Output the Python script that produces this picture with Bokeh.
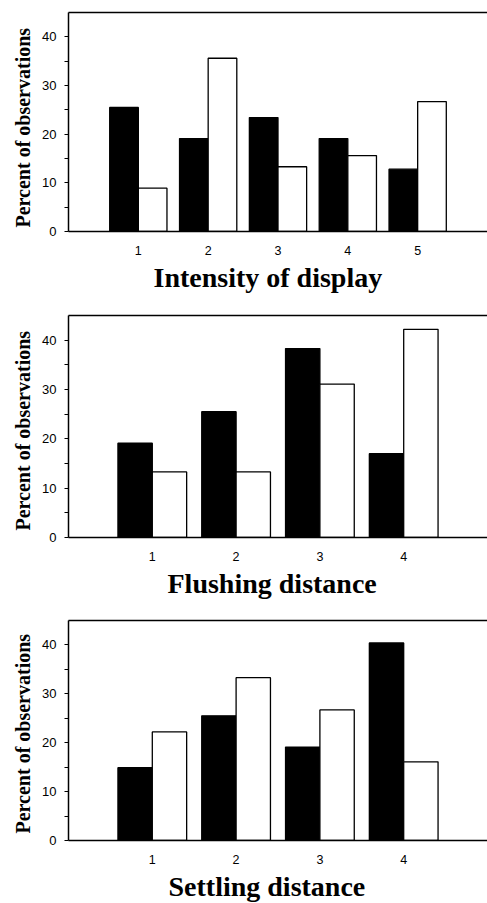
from bokeh.plotting import figure
from bokeh.layouts import column
from bokeh.models import ColumnDataSource, FixedTicker, LinearAxis, Title, Range1d
from bokeh.transform import dodge
from bokeh.embed import file_html
from bokeh.resources import INLINE

# ---- data (percent of observations) ----
intensity_cats = [1, 2, 3, 4, 5]
intensity_black = [25.5, 19.1, 23.4, 19.1, 12.8]
intensity_white = [8.9, 35.6, 13.3, 15.6, 26.7]

flushing_cats = [1, 2, 3, 4]
flushing_black = [19.1, 25.5, 38.3, 17.0]
flushing_white = [13.3, 13.3, 31.1, 42.2]

settling_cats = [1, 2, 3, 4]
settling_black = [14.9, 25.5, 19.1, 40.4]
settling_white = [22.2, 33.3, 26.7, 16.1]

y_major = [0, 10, 20, 30, 40]
y_minor = [5, 15, 25, 35]

TICK_FONT = "Liberation Sans"
SERIF = "Liberation Serif"
BAR_W = 0.41


def panel(cats, black, white, title, height, top, bottom, left, title_offset, ylab_offset):
    src = ColumnDataSource(dict(x=cats, black=black, white=white))
    p = figure(width=487, height=height,
               x_range=Range1d(0, len(cats) + 1), y_range=Range1d(0, 45),
               output_backend="svg", toolbar_location=None,
               min_border_left=left, min_border_right=0,
               min_border_top=top, min_border_bottom=bottom,
               outline_line_color=None, background_fill_color="white",
               border_fill_color="white")
    p.xgrid.visible = False
    p.ygrid.visible = False

    p.vbar(x=dodge("x", -BAR_W / 2, range=p.x_range), top="black", width=BAR_W,
           source=src, fill_color="black", line_color="black", line_width=1.3)
    p.vbar(x=dodge("x", BAR_W / 2, range=p.x_range), top="white", width=BAR_W,
           source=src, fill_color="white", line_color="black", line_width=1.3)

    xa = p.xaxis[0]
    xa.ticker = FixedTicker(ticks=cats)
    xa.major_tick_line_color = None
    xa.minor_tick_line_color = None
    xa.axis_line_width = 1.5
    xa.major_label_text_font = TICK_FONT
    xa.major_label_text_font_size = "12.5px"
    xa.major_label_text_color = "black"
    xa.major_label_standoff = 8

    ya = p.yaxis[0]
    ya.ticker = FixedTicker(ticks=y_major, minor_ticks=y_minor)
    ya.axis_line_width = 1.5
    ya.major_tick_out = 4
    ya.major_tick_in = 0
    ya.minor_tick_out = 4
    ya.minor_tick_in = 0
    ya.major_tick_line_width = 1.2
    ya.minor_tick_line_width = 1.2
    ya.major_label_text_font = TICK_FONT
    ya.major_label_text_font_size = "13px"
    ya.major_label_text_color = "black"
    ya.major_label_standoff = 8

    ylab = Title(text="Percent of observations", align="left", offset=ylab_offset,
                 text_font=SERIF, text_font_style="bold", text_font_size="20px",
                 text_color="black", standoff=12)
    p.add_layout(ylab, "left")

    top_axis = LinearAxis(ticker=FixedTicker(ticks=[]), axis_line_width=1.3,
                          major_label_text_font_size="0px",
                          major_tick_line_color=None, minor_tick_line_color=None)
    p.add_layout(top_axis, "above")

    t = Title(text=title, align="left", offset=title_offset,
              text_font=SERIF, text_font_style="bold", text_font_size="28px",
              text_color="black", standoff=4)
    p.add_layout(t, "below")
    return p


p1 = panel(intensity_cats, intensity_black, intensity_white, "Intensity of display",
           300, 12, 69, 68, 85, 4)
p2 = panel(flushing_cats, flushing_black, flushing_white, "Flushing distance",
           300, 15, 63, 67, 99, 7)
p3 = panel(settling_cats, settling_black, settling_white, "Settling distance",
           303, 20, 61, 66, 100, 7)

layout = column(p1, p2, p3, spacing=0)
open("out.html", "w").write(file_html(layout, INLINE))
